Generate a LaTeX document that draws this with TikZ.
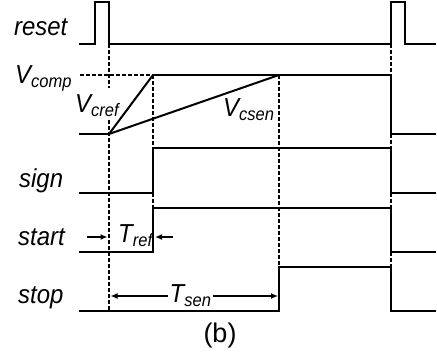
\documentclass[tikz,border=0pt]{standalone}
\usepackage{fontspec}
\usepackage{graphicx}
\setmainfont{Liberation Sans}
\usetikzlibrary{arrows.meta}
\newcommand{\nar}[1]{\scalebox{0.92}[1]{#1}}
\newcommand{\sublbl}[2]{\nar{#1\raisebox{-4.5pt}{\fontsize{18}{18}\selectfont #2}}}
\begin{document}
\begin{tikzpicture}[x=1pt,y=-1pt,
  wave/.style={line width=2pt, line join=miter},
  guide/.style={line width=1.6pt, dash pattern=on 3.5pt off 2.5pt},
  lab/.style={font=\fontsize{26}{30}\selectfont\itshape, inner sep=0pt, anchor=base west},
  arr/.style={line width=1.7pt, -{Latex[length=7pt,width=6pt]}}]
\useasboundingbox (0,0) rectangle (437,356);
% labels
\node[lab] (lreset) at (14,35) {\nar{reset}};
\node[lab] (lvcomp) at (15,83) {\sublbl{V}{comp}};
\node[lab] (lvcref) at (75,112) {\sublbl{V}{cref}};
\node[lab] (lvcsen) at (223,116) {\sublbl{V}{csen}};
\node[lab] (lsign) at (19,187) {\nar{sign}};
\node[lab] (lstart) at (18,245) {\nar{start}};
\node[lab] (lstop) at (18,303) {\nar{stop}};
\node[lab] (ltref) at (118,242) {\sublbl{T}{ref}};
\node[lab, inner xsep=1.5pt] (ltsen) at (168,302) {\sublbl{T}{sen}};
\node[font=\fontsize{27}{30}\selectfont, inner sep=0pt, anchor=base] (cap) at (220,342) {(b)};
% key coordinates
\coordinate (ramp0) at (109,134);
\coordinate (crefTop) at (153,75);
\coordinate (csenTop) at (279,75);
\coordinate (arefL) at (87,237);
\coordinate (arefLtip) at (107.5,237);
\coordinate (arefR) at (173,237);
\coordinate (arefRtip) at (155,237);
\coordinate (asenL) at (110.5,296);
\coordinate (asenR) at (278,296);
% waveforms
\draw[wave] (79,44) -- (95,44) -- (95,2) -- (109,2) -- (109,44) -- (391,44) -- (391,2) -- (405,2) -- (405,44) -- (436,44);
\draw[wave] (79,134) -- (ramp0);
\draw[wave] (ramp0) -- (crefTop);
\draw[wave] (ramp0) -- (csenTop);
\draw[wave] (crefTop) -- (391,75) -- (391,134) -- (436,134);
\draw[guide] (80,75) -- (crefTop);
\draw[wave] (79,193) -- (153,193) -- (153,148) -- (391,148) -- (391,193) -- (436,193);
\draw[wave] (79,252) -- (153,252) -- (153,208) -- (391,208) -- (391,252) -- (436,252);
\draw[wave] (79,311) -- (279,311) -- (279,267) -- (391,267) -- (391,311) -- (436,311);
% guides
\draw[guide] (109,44) -- (109,88);
\draw[guide] (109,120) -- (ramp0) -- (109,311);
\draw[guide] (crefTop) -- (153,148);
\draw[guide] (153,193) -- (153,208);
\draw[guide] (csenTop) -- (279,267);
\draw[guide] (391,44) -- (391,75);
\draw[guide] (391,134) -- (391,148);
\draw[guide] (391,193) -- (391,208);
\draw[guide] (391,252) -- (391,267);
% arrows
\draw[arr] (arefL) -- (arefLtip);
\draw[arr] (arefR) -- (arefRtip);
\draw[arr] (ltsen.west |- asenL) -- (asenL);
\draw[arr] (ltsen.east |- asenR) -- (asenR);
\end{tikzpicture}
\end{document}
